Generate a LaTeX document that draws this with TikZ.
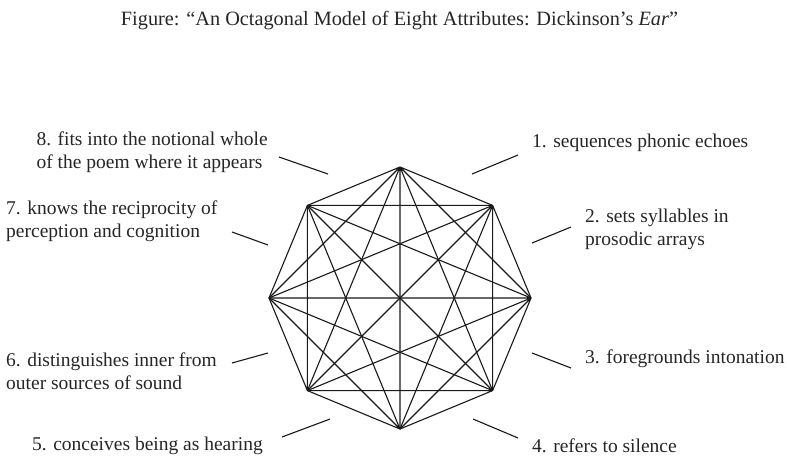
\documentclass[tikz,border=0pt]{standalone}
\usepackage{fontspec}
\setmainfont{Liberation Serif}

\begin{document}
\begin{tikzpicture}[x=1pt, y=-1pt,
  edge/.style={line width=1.1pt, black!90},
  attr/.style={font=\fontsize{19.5}{23}\selectfont, text=black!85, inner sep=0}]
\useasboundingbox (0,0) rectangle (787,459);
\node[attr, font=\fontsize{20.3}{24}\selectfont, anchor=base] (title) at (399.5,25) {Figure: “An Octagonal Model of Eight Attributes: Dickinson’s \textit{Ear}”};
% Corners of the octagon:
\coordinate (v1) at (400,167);
\coordinate (v2) at (492.6,205.4);
\coordinate (v3) at (531,298);
\coordinate (v4) at (492.6,390.6);
\coordinate (v5) at (400,429);
\coordinate (v6) at (307.4,390.6);
\coordinate (v7) at (269,298);
\coordinate (v8) at (307.4,205.4);
\draw[edge] (v1)--(v2) (v1)--(v3) (v1)--(v4) (v1)--(v5) (v1)--(v6) (v1)--(v7) (v1)--(v8);
\draw[edge] (v2)--(v3) (v2)--(v4) (v2)--(v5) (v2)--(v6) (v2)--(v7) (v2)--(v8);
\draw[edge] (v3)--(v4) (v3)--(v5) (v3)--(v6) (v3)--(v7) (v3)--(v8);
\draw[edge] (v4)--(v5) (v4)--(v6) (v4)--(v7) (v4)--(v8);
\draw[edge] (v5)--(v6) (v5)--(v7) (v5)--(v8);
\draw[edge] (v6)--(v7) (v6)--(v8);
\draw[edge] (v7)--(v8);
% Attributes:
\node[attr, anchor=base west] (a1) at (532,147) {1. sequences phonic echoes};
\node[attr, anchor=west, align=left] (a2) at (585,229) {2. sets syllables in\\prosodic arrays};
\node[attr, anchor=base west] (a3) at (585,363) {3. foregrounds intonation};
\node[attr, anchor=base west] (a4) at (532,452) {4. refers to silence};
\node[attr, anchor=base east] (a5) at (263,450) {5. conceives being as hearing};
\node[attr, anchor=west, align=left] (a6) at (6,371.5) {6. distinguishes inner from\\outer sources of sound};
\node[attr, anchor=west, align=left] (a7) at (6,221.5) {7. knows the reciprocity of\\perception and cognition};
\node[attr, anchor=east, align=left] (a8) at (268,152.5) {8. fits into the notional whole\\of the poem where it appears};
% Pointers:
\coordinate (p1a) at (472,174); \coordinate (p1b) at (518,155);
\coordinate (p2a) at (532,243); \coordinate (p2b) at (571,227);
\coordinate (p3a) at (532,353); \coordinate (p3b) at (571,368);
\coordinate (p4a) at (473,419); \coordinate (p4b) at (518,438);
\coordinate (p5a) at (282,437); \coordinate (p5b) at (330,419);
\coordinate (p6a) at (232,363); \coordinate (p6b) at (268,353);
\coordinate (p7a) at (232,232); \coordinate (p7b) at (268,245);
\coordinate (p8a) at (279,157); \coordinate (p8b) at (328,174);
\draw[edge] (p1a)--(p1b);
\draw[edge] (p2a)--(p2b);
\draw[edge] (p3a)--(p3b);
\draw[edge] (p4a)--(p4b);
\draw[edge] (p5a)--(p5b);
\draw[edge] (p6a)--(p6b);
\draw[edge] (p7a)--(p7b);
\draw[edge] (p8a)--(p8b);
\end{tikzpicture}
\end{document}
